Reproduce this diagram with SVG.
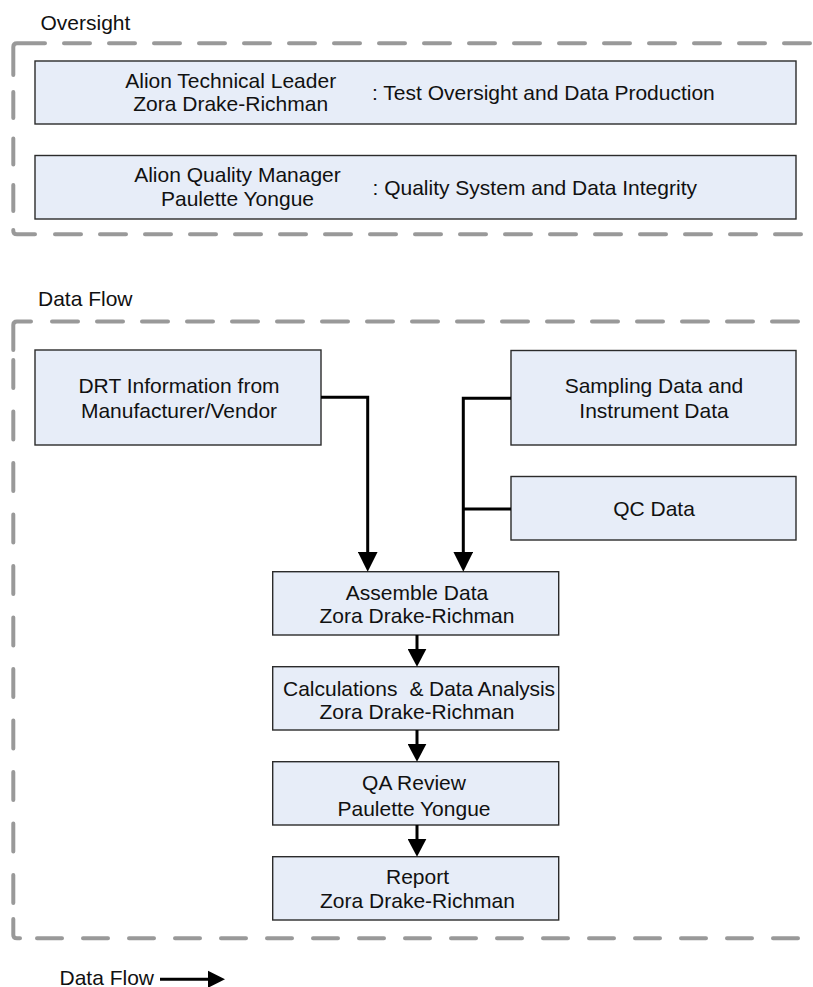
<svg xmlns="http://www.w3.org/2000/svg" width="813" height="987" viewBox="0 0 813 987">
  <style>
    text { font-family: "Liberation Sans", Arial, sans-serif; font-size: 21px; fill: #111; }
    .mid { text-anchor: middle; }
    .box { fill: #E7EDF8; stroke: #2b2b2b; stroke-width: 1.4; }
    .frame { fill: none; stroke: #999; stroke-width: 4; stroke-linecap: round; }
    .flow { fill: none; stroke: #000; stroke-width: 3; }
  </style>
  <defs>
    <marker id="arrow" viewBox="0 0 20 20" markerWidth="20" markerHeight="20" refX="10" refY="10" orient="auto" markerUnits="userSpaceOnUse">
      <path d="M0,0 L20,10 L0,20 z" fill="#000"/>
    </marker>
    <marker id="arrowS" viewBox="0 0 18 19" markerWidth="18" markerHeight="19" refX="9" refY="9.5" orient="auto" markerUnits="userSpaceOnUse">
      <path d="M0,0 L18,9.5 L0,19 z" fill="#000"/>
    </marker>
  </defs>

  <!-- Oversight container -->
  <g id="oversight">
    <text x="40.5" y="29.5">Oversight</text>
    <path class="frame" d="M13.3,75 V47 Q13.3,43.3 17,43.3 H45"/>
    <line class="frame" x1="64" y1="43.3" x2="830" y2="43.3" stroke-dasharray="26 19"/>
    <line class="frame" x1="13.3" y1="92" x2="13.3" y2="213" stroke-dasharray="26 20.5"/>
    <path class="frame" d="M13.3,230 V231 Q13.3,234.3 17,234.3 H35"/>
    <line class="frame" x1="55" y1="234.3" x2="830" y2="234.3" stroke-dasharray="26 19"/>
  </g>

  <g id="technical-leader">
    <rect class="box" x="35" y="61" width="761" height="63"/>
    <text class="mid" x="230.7" y="87.5">Alion Technical Leader</text>
    <text class="mid" x="230.7" y="111">Zora Drake-Richman</text>
    <text x="372" y="100">: Test Oversight and Data Production</text>
  </g>

  <g id="quality-manager">
    <rect class="box" x="35" y="155.5" width="761" height="63.5"/>
    <text class="mid" x="237.5" y="182.3">Alion Quality Manager</text>
    <text class="mid" x="237.5" y="206">Paulette Yongue</text>
    <text x="372.5" y="195">: Quality System and Data Integrity</text>
  </g>

  <!-- Data Flow container -->
  <g id="data-flow">
    <text x="38" y="306">Data Flow</text>
    <path class="frame" d="M13.3,350 V325 Q13.3,321.5 17,321.5 H31"/>
    <line class="frame" x1="52" y1="321.5" x2="830" y2="321.5" stroke-dasharray="26 19"/>
    <line class="frame" x1="13.3" y1="360" x2="13.3" y2="905" stroke-dasharray="28 23.5"/>
    <path class="frame" d="M13.3,919 V935 Q13.3,938.3 17,938.3 H20"/>
    <line class="frame" x1="37" y1="938.3" x2="830" y2="938.3" stroke-dasharray="25 21"/>
  </g>

  <g id="drt-info">
    <rect class="box" x="35" y="350" width="286" height="95"/>
    <text class="mid" x="179" y="392.5">DRT Information from</text>
    <text class="mid" x="179" y="417.5">Manufacturer/Vendor</text>
  </g>

  <g id="sampling-data">
    <rect class="box" x="511" y="350.5" width="285" height="94.5"/>
    <text class="mid" x="654" y="393">Sampling Data and</text>
    <text class="mid" x="654" y="418">Instrument Data</text>
  </g>

  <g id="qc-data">
    <rect class="box" x="511" y="476.5" width="285" height="63.5"/>
    <text class="mid" x="654" y="516">QC Data</text>
  </g>

  <g id="assemble-data">
    <rect class="box" x="272.7" y="571.7" width="286" height="63.3"/>
    <text class="mid" x="417" y="599.5">Assemble Data</text>
    <text class="mid" x="417" y="622.5">Zora Drake-Richman</text>
  </g>

  <g id="calculations">
    <rect class="box" x="272.7" y="666.7" width="286" height="63.3"/>
    <text x="283" y="695.5">Calculations</text>
    <text x="409.5" y="695.5" textLength="145.5">&amp; Data Analysis</text>
    <text class="mid" x="417" y="719">Zora Drake-Richman</text>
  </g>

  <g id="qa-review">
    <rect class="box" x="272.7" y="761.7" width="286" height="63.3"/>
    <text class="mid" x="414" y="790">QA Review</text>
    <text class="mid" x="414" y="815.5">Paulette Yongue</text>
  </g>

  <g id="report">
    <rect class="box" x="272.7" y="856.7" width="286" height="63.3"/>
    <text class="mid" x="417.5" y="884.3">Report</text>
    <text class="mid" x="417.5" y="908.3">Zora Drake-Richman</text>
  </g>

  <!-- Connectors -->
  <g id="connectors">
    <path class="flow" d="M321,397.3 H367.7 V561.7" marker-end="url(#arrow)"/>
    <path class="flow" d="M511,398.3 H463.3 V561.7" marker-end="url(#arrow)"/>
    <path class="flow" d="M511,509 H463.3"/>
    <path class="flow" d="M417,635 V657.7" marker-end="url(#arrowS)"/>
    <path class="flow" d="M417,730 V752.7" marker-end="url(#arrowS)"/>
    <path class="flow" d="M417,825 V847.7" marker-end="url(#arrowS)"/>
  </g>

  <!-- Legend -->
  <g id="legend">
    <text x="59.5" y="984.5">Data Flow</text>
    <line class="flow" x1="160" y1="979.3" x2="216.5" y2="979.3"/>
    <path d="M208,970.8 L225,979.3 L208,987.8 z" fill="#000"/>
  </g>
</svg>
